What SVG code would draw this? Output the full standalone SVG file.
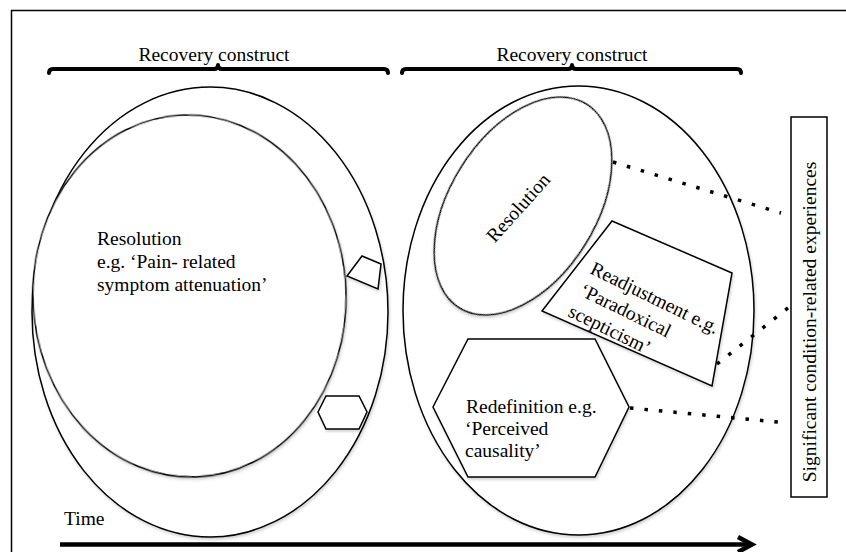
<svg xmlns="http://www.w3.org/2000/svg" width="846" height="552" viewBox="0 0 846 552">
<defs>
<filter id="sh" x="-10%" y="-10%" width="120%" height="120%">
<feDropShadow dx="1" dy="2" stdDeviation="1.5" flood-color="#000" flood-opacity="0.18"/>
</filter>
</defs>
<style>
text{font-family:"Liberation Serif","Times New Roman",serif;font-size:19.5px;fill:#000}
.shape{fill:#fff;stroke:#000;stroke-width:1.5}
.brk{fill:none;stroke:#000;stroke-width:4;stroke-linecap:round;stroke-linejoin:round}
.dot{fill:none;stroke:#000;stroke-width:3.5;stroke-dasharray:3.5 11}
</style>
<rect x="11.5" y="10.5" width="900" height="700" fill="#fff" stroke="#000" stroke-width="1.5"/>

<g id="bracket-left">
<path class="brk" d="M49,73 Q49,69 53,69 L214,69 Q218,69 218,65 Q218,69 222,69 L384,69 Q388,69 388,73"/>
<text x="214" y="61" text-anchor="middle">Recovery construct</text>
</g>
<g id="bracket-right">
<path class="brk" d="M402,73 Q402,69 406,69 L568,69 Q572,69 572,65 Q572,69 576,69 L737,69 Q741,69 741,73"/>
<text x="572" y="61" text-anchor="middle">Recovery construct</text>
</g>

<g id="left-construct">
<ellipse class="shape" filter="url(#sh)" cx="210" cy="312" rx="178" ry="225"/>
</g>
<g id="left-resolution">
<ellipse class="shape" filter="url(#sh)" cx="189.5" cy="296" rx="156.5" ry="181" transform="rotate(-2 189.5 296)"/>
<text x="97" y="245">Resolution</text>
<text x="97" y="268">e.g. ‘Pain- related</text>
<text x="97" y="291">symptom attenuation’</text>
</g>
<g id="left-readjustment">
<polygon class="shape" filter="url(#sh)" points="347,276 362,256 381,264 378,289"/>
</g>
<g id="left-redefinition">
<polygon class="shape" filter="url(#sh)" points="318,412 326,396 359,396 367,412 359,429 326,429"/>
</g>

<g id="right-construct">
<ellipse class="shape" filter="url(#sh)" cx="578.5" cy="310.5" rx="175.5" ry="224.5"/>
</g>
<g id="right-readjustment">
<polygon class="shape" filter="url(#sh)" points="612,221 732,273 712,386 542,311"/>
<g transform="translate(589,273) rotate(26)">
<text x="0" y="0">Readjustment e.g.</text>
<text x="0" y="24">‘Paradoxical</text>
<text x="-1" y="48">scepticism’</text>
</g>
</g>
<g id="right-resolution">
<ellipse class="shape" filter="url(#sh)" cx="523" cy="206" rx="73" ry="120" transform="rotate(32 523 206)"/>
<text x="0" y="0" text-anchor="middle" transform="translate(523,212) rotate(-48)">Resolution</text>
</g>
<g id="right-redefinition">
<polygon class="shape" filter="url(#sh)" points="433,407 468,339 595,339 629,407 595,477 468,477"/>
<text x="466" y="413">Redefinition e.g.</text>
<text x="465" y="435">‘Perceived</text>
<text x="465" y="457">causality’</text>
</g>

<g id="experiences">
<rect x="791" y="117" width="36" height="380" fill="#fff" stroke="#000" stroke-width="1.5"/>
<text x="0" y="0" text-anchor="middle" transform="translate(816,322) rotate(-90)">Significant condition-related experiences</text>
</g>

<g id="connectors">
<line class="dot" x1="613" y1="162" x2="781" y2="213"/>
<line class="dot" x1="717" y1="364" x2="793" y2="304"/>
<line class="dot" x1="630" y1="408" x2="788" y2="423"/>
</g>

<g id="time-axis">
<line x1="60" y1="544.5" x2="750" y2="544.5" stroke="#000" stroke-width="4.5"/>
<polyline points="738,537 752,544.5 738,552" fill="none" stroke="#000" stroke-width="4.5" stroke-linejoin="miter"/>
<text x="64" y="525">Time</text>
</g>
</svg>
